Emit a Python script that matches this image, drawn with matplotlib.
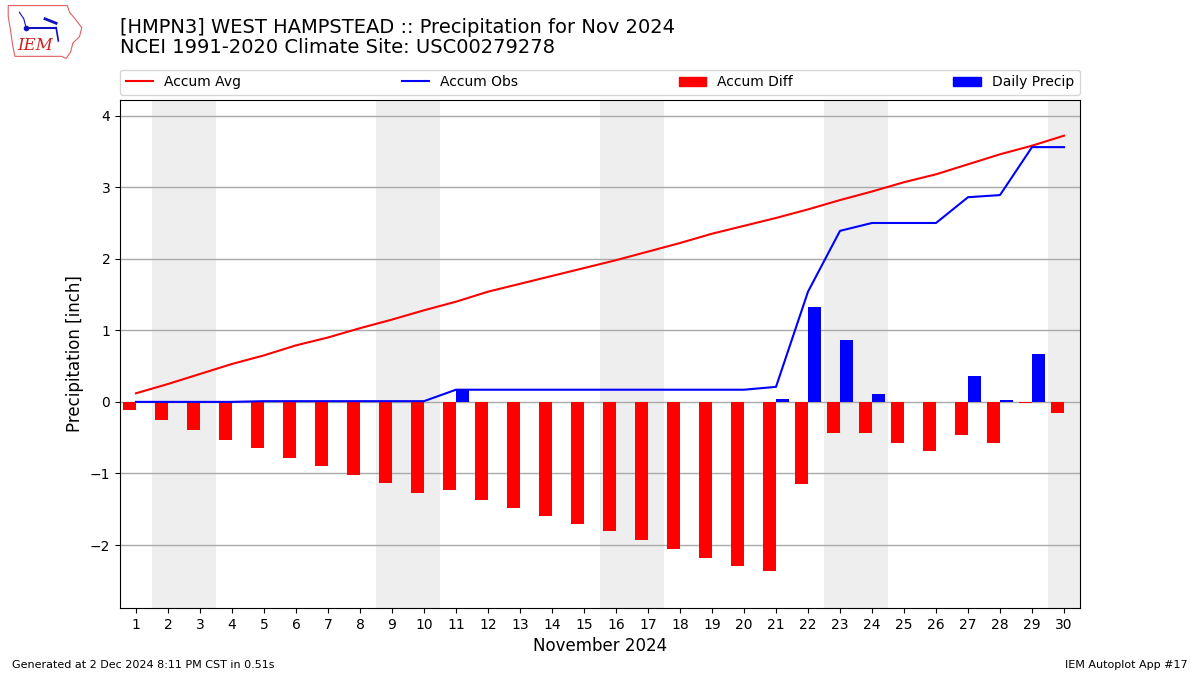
import matplotlib
matplotlib.use("Agg")
import matplotlib.pyplot as plt
from matplotlib.patches import Polygon, Patch
from matplotlib.lines import Line2D
import numpy as np

# --- data ---
DAYS = list(range(1, 31))
ACCUM_AVG = [0.12, 0.25, 0.39, 0.53, 0.65, 0.79, 0.90, 1.03, 1.15, 1.28,
             1.40, 1.54, 1.65, 1.76, 1.87, 1.98, 2.10, 2.22, 2.35, 2.46,
             2.57, 2.69, 2.82, 2.94, 3.07, 3.18, 3.32, 3.46, 3.58, 3.72]
ACCUM_OBS = [0.00, 0.00, 0.00, 0.00, 0.01, 0.01, 0.01, 0.01, 0.01, 0.01,
             0.17, 0.17, 0.17, 0.17, 0.17, 0.17, 0.17, 0.17, 0.17, 0.17,
             0.21, 1.54, 2.39, 2.50, 2.50, 2.50, 2.86, 2.89, 3.56, 3.56]
DAILY = [0.00, 0.00, 0.00, 0.00, 0.01, 0.00, 0.00, 0.00, 0.00, 0.00,
         0.16, 0.00, 0.00, 0.00, 0.00, 0.00, 0.00, 0.00, 0.00, 0.00,
         0.04, 1.33, 0.86, 0.11, 0.00, 0.00, 0.36, 0.03, 0.67, 0.00]
WEEKEND_DAYS = [2, 3, 9, 10, 16, 17, 23, 24, 30]

TITLE = ("[HMPN3] WEST HAMPSTEAD :: Precipitation for Nov 2024\n"
         "NCEI 1991-2020 Climate Site: USC00279278")


def draw_logo(fig):
    lax = fig.add_axes([0.005, 0.91, 0.065, 0.085])
    lax.set_xlim(0, 70)
    lax.set_ylim(0, 52)
    lax.axis("off")
    # rough Iowa outline
    outline = [(2, 50), (55, 50), (57, 44), (62, 38), (68, 30), (66, 22),
               (60, 16), (58, 8), (54, 2), (50, 4), (8, 4), (6, 14),
               (4, 28), (2, 40)]
    lax.add_patch(Polygon(outline, closed=True, fill=False,
                          edgecolor="#e06060", linewidth=0.8))
    lax.plot([18, 45], [30, 30], color="#1010c0", lw=1.5)
    lax.plot([18], [30], "o", color="#1010c0", ms=3)
    lax.plot([45, 47], [30, 18], color="#1010c0", lw=1.2)
    lax.plot([12, 16, 18], [44, 38, 30], color="#1010c0", lw=0.8)
    lax.plot([35, 45], [38, 34], color="#1010c0", lw=2)
    lax.text(10, 10, "IEM", color="#d02020", fontsize=12,
             family="DejaVu Serif", style="italic")


def main():
    days = np.array(DAYS)
    avg = np.array(ACCUM_AVG)
    obs = np.array(ACCUM_OBS)
    diff = obs - avg

    fig = plt.figure(figsize=(12, 6.75), dpi=100)
    ax = fig.add_axes([0.1, 0.0993, 0.8, 0.7527])

    for d in WEEKEND_DAYS:
        ax.axvspan(d - 0.5, d + 0.5, color="#eeeeee", zorder=0, lw=0)

    ax.bar(days, diff, width=-0.4, align="edge", color="red", zorder=2)
    ax.bar(days, DAILY, width=0.4, align="edge", color="blue", zorder=2)
    ax.plot(days, avg, color="red", lw=1.5, zorder=3)
    ax.plot(days, obs, color="blue", lw=1.5, zorder=3)

    ax.set_xlim(0.5, 30.5)
    ax.set_ylim(-2.88, 4.22)
    ax.set_xticks(days)
    ax.set_yticks([-2, -1, 0, 1, 2, 3, 4])
    ax.yaxis.grid(True, color="#aaaaaa", lw=1)
    ax.set_axisbelow(True)
    ax.tick_params(labelsize=10)
    ax.set_ylabel("Precipitation [inch]", fontsize=12)
    ax.set_xlabel("November 2024", fontsize=12)

    handles = [Line2D([], [], color="red", lw=1.5),
               Line2D([], [], color="blue", lw=1.5),
               Patch(color="red"), Patch(color="blue")]
    labels = ["Accum Avg", "Accum Obs", "Accum Diff", "Daily Precip"]
    ax.legend(handles, labels, loc="lower left", ncol=4, mode="expand",
              bbox_to_anchor=(0, 1.01, 1, 0.05), fontsize=10,
              borderaxespad=0)

    fig.text(0.1, 0.915, TITLE, fontsize=14, ha="left", va="bottom",
             linespacing=1.1)
    fig.text(0.01, 0.01, "Generated at 2 Dec 2024 8:11 PM CST in 0.51s",
             fontsize=8)
    fig.text(0.99, 0.01, "IEM Autoplot App #17", fontsize=8, ha="right")

    draw_logo(fig)

    fig.savefig("out.png", dpi=100)


if __name__ == "__main__":
    main()
